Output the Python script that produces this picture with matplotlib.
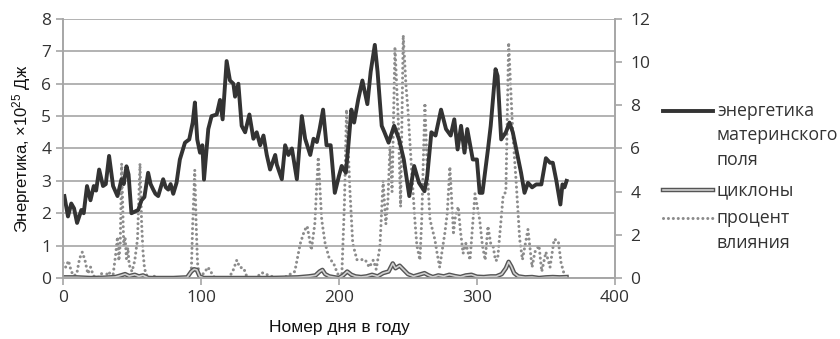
import matplotlib
matplotlib.use("Agg")
import matplotlib.pyplot as plt
from matplotlib.lines import Line2D

plt.rcParams['font.family'] = ['Open Sans', 'DejaVu Sans']
plt.rcParams['mathtext.default'] = 'regular'

# энергетика материнского поля (левая ось, x10^25 Дж)
energy_days = [1, 3.6, 6, 8, 10.2, 13.3, 15, 17.4, 19.9, 22.3, 24, 26.2, 29, 31, 33.4, 36.3,
               39.5, 42.4, 44, 46, 47.5, 49.6, 52, 54.5, 56.9, 59, 61.7, 63.5, 65.4, 67, 69,
               72.6, 74.5, 76.3, 78, 79.9, 82.3, 84.7, 88.4, 91.5, 94, 95.6, 97.3, 99.3, 101,
               102.2, 105.3, 107.7, 111.4, 113.8, 115.7, 118.6, 121, 123.5, 124.7, 127.1,
               129.5, 132, 135.1, 138, 140.4, 142.9, 145.3, 147.7, 150.1, 153.8, 155, 158.6,
               161, 163.4, 165.9, 169.5, 173.1, 175.5, 179.2, 181.6, 184, 186, 188.5, 191,
               194, 197, 200, 202, 205, 207, 209, 211, 214, 217, 220.6, 223, 226, 228, 231,
               233, 236, 240, 243.6, 247, 251, 254.5, 258, 262, 264, 267, 270, 274, 277.6,
               281, 283.6, 286, 288.5, 291, 293, 297, 300, 302, 304, 308, 310, 313.5, 315,
               317.6, 321, 323.6, 326, 330, 332, 334.5, 337, 340, 343, 346.7, 350, 353, 355,
               357.6, 360.5, 362, 363.5, 365]
energy_vals = [2.53, 1.9, 2.3, 2.15, 1.7, 2.1, 2.0, 2.84, 2.4, 2.84, 2.7, 3.35, 2.84, 2.9, 3.77,
               2.84, 2.53, 3.05, 2.9, 3.45, 3.2, 2.0, 2.05, 2.1, 2.4, 2.5, 3.25, 2.9, 2.73,
               2.6, 2.53, 3.05, 2.8, 2.73, 2.9, 2.6, 2.94, 3.66, 4.18, 4.28, 4.8, 5.42, 4.28,
               3.87, 4.1, 3.04, 4.6, 5.0, 5.05, 5.5, 4.9, 6.7, 6.1, 6.0, 5.6, 6.0, 4.7, 4.5,
               5.05, 4.3, 4.5, 4.1, 4.4, 3.8, 3.35, 3.8, 3.5, 3.05, 4.1, 3.8, 4.0, 3.05, 5.0,
               4.3, 3.8, 4.3, 4.2, 4.6, 5.2, 4.1, 4.1, 2.63, 3.15, 3.46, 3.25, 4.18, 5.2, 4.8,
               5.52, 6.1, 5.37, 6.37, 7.2, 6.37, 4.7, 4.5, 4.18, 4.7, 4.28, 3.66, 2.53, 3.46,
               2.94, 2.68, 3.15, 4.5, 4.4, 5.2, 4.6, 4.4, 4.9, 3.97, 4.7, 3.87, 4.6, 3.66,
               3.66, 2.63, 2.63, 3.97, 4.7, 6.45, 6.24, 4.28, 4.5, 4.8, 4.5, 3.66, 3.25, 2.63,
               2.94, 2.8, 2.89, 2.89, 3.7, 3.56, 3.56, 3.0, 2.27, 2.89, 2.8, 3.0]

# циклоны (левая ось)
cyc_days = [0, 10, 20, 30, 38, 42, 45, 48, 52, 55, 58, 62, 80, 90, 93, 95, 97, 99, 102, 120,
            150, 170, 178, 183, 186, 188, 190, 193, 197, 200, 203, 206, 209, 212, 216, 220,
            224, 228, 232, 236, 239, 241, 244, 247, 250, 254, 258, 262, 265, 268, 272, 276,
            280, 284, 288, 292, 296, 300, 305, 310, 314, 318, 321, 323, 325, 327, 330, 335,
            340, 345, 350, 355, 360, 365]
cyc_vals = [0.02, 0.02, 0.0, 0.01, 0.03, 0.08, 0.12, 0.06, 0.1, 0.05, 0.08, 0.0, 0.0, 0.02,
            0.2, 0.27, 0.25, 0.05, 0.0, 0.0, 0.0, 0.02, 0.05, 0.08, 0.2, 0.25, 0.12, 0.05,
            0.02, 0.0, 0.08, 0.2, 0.1, 0.05, 0.03, 0.05, 0.1, 0.05, 0.15, 0.2, 0.45, 0.3,
            0.38, 0.25, 0.12, 0.05, 0.1, 0.15, 0.08, 0.03, 0.08, 0.05, 0.1, 0.06, 0.03, 0.08,
            0.1, 0.04, 0.03, 0.05, 0.05, 0.12, 0.3, 0.5, 0.35, 0.15, 0.05, 0.02, 0.03, 0.0,
            0.02, 0.03, 0.02, 0.03]

# процент влияния (правая ось)
pct_days = [0, 2, 4, 6, 8, 10, 12, 14, 16, 18, 20, 22, 25, 28, 30, 33, 36, 38, 39.5, 40.5,
            41.5, 42.5, 44, 45, 46, 47, 48, 50, 52, 54, 55.8, 57, 58, 59, 60, 62, 65, 70, 80,
            90, 93, 94, 95.5, 96.5, 97.5, 99, 103, 105, 110, 120, 123, 126, 128, 131, 133,
            136, 140, 144, 150, 155, 160, 168, 172, 175, 177, 180, 182.5, 185, 187.5, 190,
            193, 196, 199, 202, 204, 205.5, 208, 210, 213, 216, 219, 222, 224.9, 227, 229.7,
            232, 234, 235.5, 237, 238.5, 240.6, 243, 244.7, 246.6, 248.5, 250, 252.7, 255,
            256.5, 258.7, 260, 262.3, 264, 266, 269.6, 271, 273, 276.8, 278.5, 280.4, 283,
            284.5, 286.5, 288, 290, 292, 295, 298.6, 302, 304, 306, 308, 310, 311.8, 313.5,
            315, 319, 321, 323, 326, 328.5, 331, 333, 337, 340, 342, 345, 347, 350, 353, 356,
            359, 361, 364]
pct_vals = [0.7, 0.5, 0.8, 0.3, 0.1, 0.2, 0.9, 1.2, 0.8, 0.2, 0.5, 0.1, 0.0, 0.2, 0.0, 0.3,
            0.0, 1.0, 1.9, 0.8, 1.6, 5.3, 1.5, 1.9, 0.9, 1.4, 0.6, 0.3, 0.8, 1.8, 5.3, 2.5,
            1.2, 0.5, 0.2, 0.0, 0.1, 0.0, 0.0, 0.0, 0.3, 2.5, 5.0, 2.5, 0.7, 0.0, 0.3, 0.5,
            0.0, 0.0, 0.3, 0.83, 0.5, 0.45, 0.1, 0.0, 0.0, 0.25, 0.1, 0.0, 0.0, 0.3, 1.6,
            2.2, 2.4, 1.3, 2.5, 5.6, 2.7, 1.6, 0.9, 0.7, 0.2, 0.0, 3.5, 7.8, 4.0, 1.6, 0.85,
            0.85, 0.85, 0.5, 0.83, 0.4, 1.45, 4.5, 2.5, 3.6, 6.1, 4.0, 10.7, 7.3, 3.3,
            11.25, 9.0, 7.8, 5.0, 2.7, 1.5, 0.83, 2.7, 8.1, 5.0, 2.7, 1.76, 1.2, 0.5, 2.1,
            3.0, 5.15, 2.1, 2.9, 3.3, 2.2, 1.14, 1.6, 0.83, 3.9, 2.7, 1.5, 0.83, 2.4, 1.6,
            1.45, 0.8, 0.85, 3.8, 4.0, 10.9, 6.7, 4.4, 1.8, 0.85, 2.25, 0.5, 1.2, 1.5, 0.3,
            1.2, 0.5, 1.8, 1.7, 0.7, 0.0]

fig = plt.figure(figsize=(8.4, 3.39), dpi=100)
ax = fig.add_axes([0.075, 0.18, 0.657, 0.764])
ax2 = ax.twinx()
ax.set_zorder(ax2.get_zorder() + 1)
ax.patch.set_visible(False)

grid_c = '#a6a6a6'
tick_c = '#333333'
dot_style = (0, (0.01, 1.6))

ax2.plot(pct_days, pct_vals, color='#8c8c8c', linestyle=dot_style, linewidth=2.2,
         dash_capstyle='round')
ax.plot(cyc_days, cyc_vals, color='#555555', linewidth=3.2)
ax.plot(cyc_days, cyc_vals, color='#d0d0d0', linewidth=1.2)
ax.plot(energy_days, energy_vals, color='#333333', linewidth=2.8)

ax.set_xlim(0, 400)
ax.set_ylim(0, 8)
ax2.set_ylim(0, 12)
ax.set_xticks([0, 100, 200, 300, 400])
ax.set_yticks(range(0, 9))
ax2.set_yticks(range(0, 13, 2))

ax.yaxis.grid(True, color=grid_c, linewidth=1.2)
ax.set_axisbelow(True)

for a in (ax, ax2):
    for s in a.spines.values():
        s.set_color(grid_c)
        s.set_linewidth(1.2)
    a.spines['top'].set_visible(False)
    a.tick_params(colors=grid_c, labelcolor=tick_c, labelsize=12.5, length=5, width=1.2)
ax.tick_params(axis='x', pad=4)
ax2.tick_params(axis='y', pad=6)

ax.set_xlabel('Номер дня в году', family=['Liberation Sans', 'DejaVu Sans'],
              fontsize=12.5, color='#111111', labelpad=10)
ax.set_ylabel('Энергетика, ×10$^{25}$ Дж', family=['Liberation Sans', 'DejaVu Sans'],
              fontsize=12, color='#111111', labelpad=6)

# легенда
leg_font = dict(fontsize=12.8, color='#333333', va='center', ha='left')
def leg_y(py):
    return 1 - py / 339.0
x0, x1, xt = 663 / 840.0, 713 / 840.0, 717 / 840.0
fig.add_artist(Line2D([x0, x1], [leg_y(111)] * 2, color='#333333', linewidth=2.8))
fig.text(xt, leg_y(111), 'энергетика', **leg_font)
fig.text(xt, leg_y(135), 'материнского', **leg_font)
fig.text(xt, leg_y(160), 'поля', **leg_font)
fig.add_artist(Line2D([x0, x1], [leg_y(190)] * 2, color='#555555', linewidth=3.2))
fig.add_artist(Line2D([x0, x1], [leg_y(190)] * 2, color='#d0d0d0', linewidth=1.2))
fig.text(xt, leg_y(190), 'циклоны', **leg_font)
fig.add_artist(Line2D([x0, x1], [leg_y(218)] * 2, color='#8c8c8c', linestyle=dot_style,
                      linewidth=2.2, dash_capstyle='round'))
fig.text(xt, leg_y(218), 'процент', **leg_font)
fig.text(xt, leg_y(243), 'влияния', **leg_font)

fig.savefig('out.png', dpi=100)
